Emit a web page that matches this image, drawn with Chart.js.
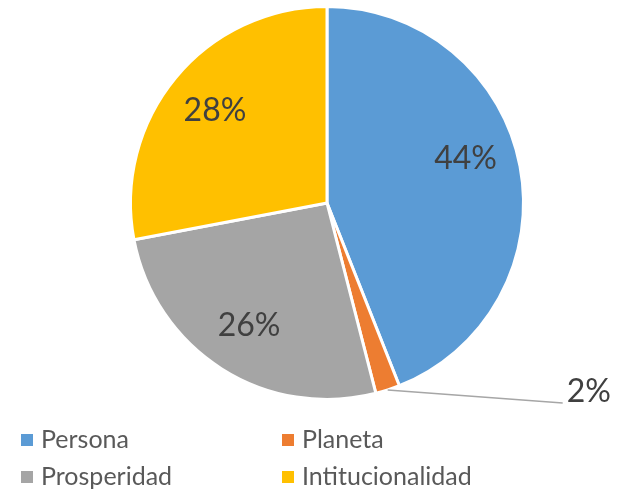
<!DOCTYPE html>
<html>
<head>
<meta charset="utf-8">
<script src="https://cdn.jsdelivr.net/npm/chart.js@4.4.0/dist/chart.umd.min.js"></script>
<style>
  html, body { margin: 0; padding: 0; background: #fff; }
  #wrap { width: 620px; height: 489px; }
</style>
</head>
<body>
<div id="wrap"><canvas id="c" width="620" height="489"></canvas></div>
<script>
const categories = ['Persona', 'Planeta', 'Prosperidad', 'Intitucionalidad'];
const percents = [44, 2, 26, 28];
const colors = ['#5B9BD5', '#ED7D31', '#A5A5A5', '#FFC000'];

const FONT = 'Lato, "Open Sans", sans-serif';

// percent labels inside slices, small ones outside with a leader line
const sliceLabels = {
  id: 'sliceLabels',
  afterDatasetsDraw(chart) {
    const ctx = chart.ctx;
    const meta = chart.getDatasetMeta(0);
    ctx.save();
    ctx.font = '32px ' + FONT;
    ctx.fillStyle = '#404040';
    ctx.textBaseline = 'middle';
    meta.data.forEach((arc, i) => {
      const p = arc.getProps(['x', 'y', 'startAngle', 'endAngle', 'outerRadius']);
      let mid = (p.startAngle + p.endAngle) / 2;
      const text = percents[i] + '%';
      if (percents[i] < 5) {
        const sx = p.x + Math.cos(mid) * p.outerRadius;
        const sy = p.y + Math.sin(mid) * p.outerRadius;
        const ex = sx + 175, ey = sy + 13;
        ctx.strokeStyle = '#A6A6A6';
        ctx.lineWidth = 1.5;
        ctx.beginPath();
        ctx.moveTo(sx, sy);
        ctx.lineTo(ex, ey);
        ctx.stroke();
        ctx.textAlign = 'left';
        ctx.fillText(text, ex + 4, ey - 11);
      } else {
        // the big slice's label sits a bit higher, like Excel's best fit
        if (p.endAngle - p.startAngle > Math.PI * 0.8) mid -= 0.12;
        const r = p.outerRadius * 0.74;
        ctx.textAlign = 'center';
        ctx.fillText(text, p.x + Math.cos(mid) * r, p.y + Math.sin(mid) * r);
      }
    });
    ctx.restore();
  }
};

// two-column legend at the bottom
const gridLegend = {
  id: 'gridLegend',
  afterDraw(chart) {
    const ctx = chart.ctx;
    ctx.save();
    ctx.font = '25px ' + FONT;
    ctx.textBaseline = 'middle';
    ctx.textAlign = 'left';
    const colX = [21, 282];
    const rowY = [440, 477];
    categories.forEach((name, i) => {
      const x = colX[i % 2], y = rowY[Math.floor(i / 2)];
      ctx.fillStyle = colors[i];
      ctx.fillRect(x, y - 6, 12, 12);
      ctx.fillStyle = '#595959';
      ctx.fillText(name, x + 20, y);
    });
    ctx.restore();
  }
};

new Chart(document.getElementById('c'), {
  type: 'pie',
  data: {
    labels: categories,
    datasets: [{
      data: percents,
      backgroundColor: colors,
      borderColor: '#ffffff',
      borderWidth: 3
    }]
  },
  options: {
    responsive: false,
    animation: false,
    layout: { padding: { top: 5, bottom: 88, left: 34, right: 0 } },
    plugins: {
      legend: { display: false },
      tooltip: { enabled: false }
    }
  },
  plugins: [sliceLabels, gridLegend]
});
</script>
</body>
</html>
